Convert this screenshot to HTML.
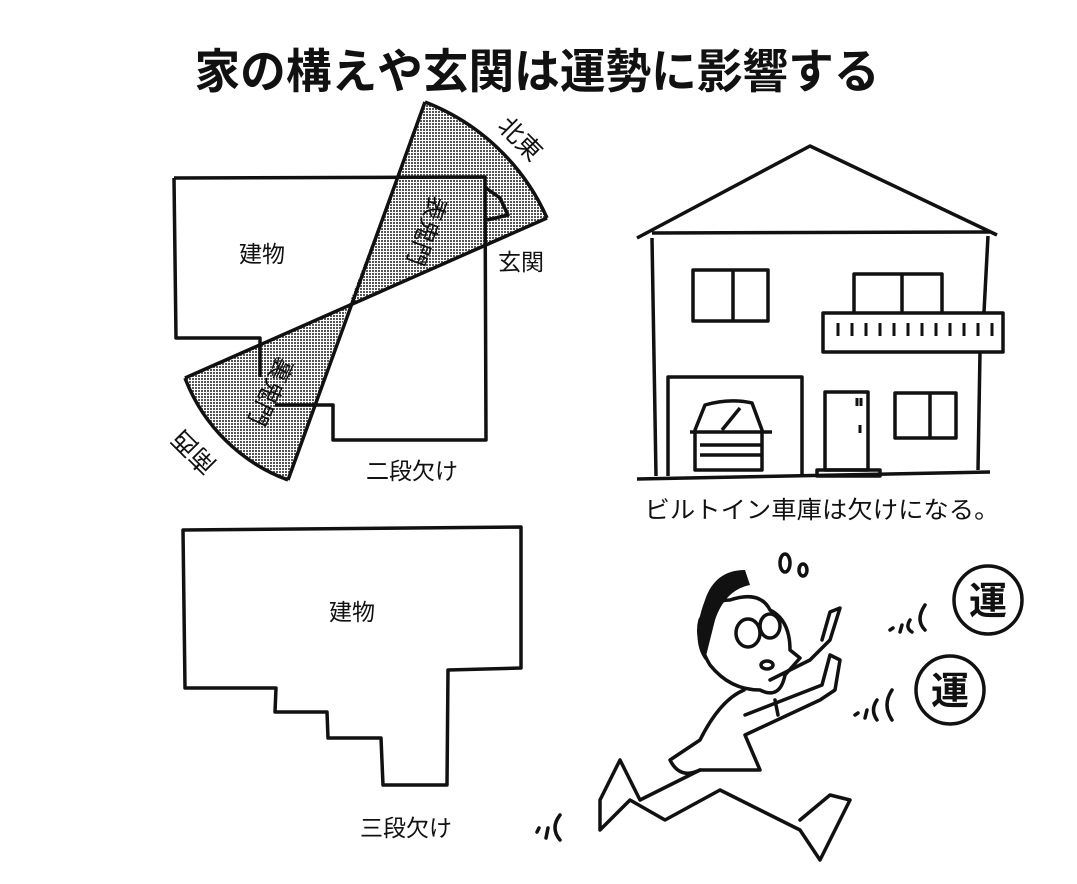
<!DOCTYPE html>
<html><head><meta charset="utf-8"><style>
html,body{margin:0;padding:0;background:#fff;}
svg{display:block;}
text{font-family:"Liberation Sans","Noto Sans CJK JP",sans-serif;fill:#111;}
</style></head><body>
<svg width="1077" height="884" viewBox="0 0 1077 884" xmlns="http://www.w3.org/2000/svg">
<defs>
<pattern id="dots" width="3" height="3" patternUnits="userSpaceOnUse">
<rect width="3" height="3" fill="#fff"/><rect width="2" height="2" fill="#555"/>
</pattern>
</defs>
<text x="537" y="88" font-size="47" font-weight="bold" text-anchor="middle" textLength="685" lengthAdjust="spacingAndGlyphs">家の構えや玄関は運勢に影響する</text>

<!-- wedges -->
<path d="M348,307 L425,102 A220,220 0 0 1 547,218 Z" fill="url(#dots)"/>
<path d="M348,307 L185,378 A175,175 0 0 0 288,480 Z" fill="url(#dots)"/>
<g fill="none" stroke="#111" stroke-width="3.5" stroke-linejoin="round">
<path d="M425,102 L288,480"/>
<path d="M547,218 L185,378"/>
<path d="M425,102 A220,220 0 0 1 547,218"/>
<path d="M185,378 A175,175 0 0 0 288,480"/>
<path d="M174,178 L485,177 L486,440 L333,440 L333,405 L275,405"/>
<path d="M174,178 L176,338 L260,338 L260,377"/>
<path d="M486,188 L500,198 L508,215 L487,220"/>
<path d="M183,530 L521,527 L521,668 L448,670 L447,785 L383,785 L381,738 L328,738 L327,712 L275,712 L276,688 L185,688 Z"/>
</g>
<text x="262" y="262" font-size="23" text-anchor="middle">建物</text>
<text x="521" y="270" font-size="23" text-anchor="middle">玄関</text>
<text x="412" y="479" font-size="23" text-anchor="middle">二段欠け</text>
<text x="0" y="0" font-size="25" text-anchor="middle" transform="translate(514,145) rotate(45)">北東</text>
<text x="0" y="0" font-size="25" text-anchor="middle" transform="translate(200,446) rotate(-135)">南西</text>
<text x="0" y="0" font-size="24" text-anchor="middle" transform="translate(419,228) rotate(110)">表鬼門</text>
<text x="0" y="0" font-size="24" text-anchor="middle" transform="translate(263,388) rotate(115)">裏鬼門</text>
<text x="352" y="620" font-size="23" text-anchor="middle">建物</text>
<text x="406" y="836" font-size="23" text-anchor="middle">三段欠け</text>

<!-- house -->
<g fill="none" stroke="#111" stroke-width="3.5" stroke-linejoin="round">
<path d="M637,238 L810,146 L997,235"/>
<path d="M652,233 L990,232"/>
<path d="M652,238 L656,476"/>
<path d="M988,236 L984,312"/>
<path d="M980,352 L978,470"/>
<path d="M637,479 L990,472"/>
<rect x="693" y="270" width="75" height="51"/>
<path d="M733,270 V321"/>
<path d="M854,312 V274 H942 V312"/>
<path d="M902,274 V312"/>
<rect x="823" y="313" width="180" height="39"/>
<path d="M668,476 V377 H802 V476"/>
<rect x="825" y="392" width="43" height="78"/>
<rect x="817" y="470" width="63" height="6"/>
<rect x="895" y="393" width="61" height="45"/>
<path d="M930,393 V438"/>
<path d="M695,470 V430 L705,405 Q730,398 752,403 L762,430 V470 Z"/>
<path d="M690,432 H772"/>
<path d="M700,445 H762 M700,455 H762"/>
<path d="M740,408 L722,430"/>
</g>
<g stroke="#111" stroke-width="3">
<path d="M838,323v13M852,323v13M866,323v13M880,323v13M894,323v13M908,323v13M922,323v13M936,323v13M950,323v13M964,323v13M978,323v13M992,323v13"/>
<path d="M857,398v8M861,398v8M860,425v8"/>
</g>
<text x="822" y="518" font-size="24" text-anchor="middle" textLength="355" lengthAdjust="spacingAndGlyphs">ビルトイン車庫は欠けになる。</text>

<!-- man -->
<g fill="none" stroke="#111" stroke-width="3.5" stroke-linejoin="round" stroke-linecap="round">
<path d="M730,600 Q760,590 770,610 Q790,620 790,650 L800,658 L785,675 Q780,700 760,690 Q730,690 710,665 Q695,640 700,620 Q710,600 730,600Z"/>
<ellipse cx="748" cy="633" rx="12" ry="14"/>
<ellipse cx="770" cy="626" rx="10" ry="12"/>
<ellipse cx="767" cy="665" rx="6" ry="4"/>
<path d="M744,690 Q720,700 700,740 L670,760 Q680,780 700,770 L760,770 L745,735 L820,700 L835,690 L840,660 L830,655 L822,685 L745,715"/>
<path d="M770,680 L810,660 L830,640 L840,608 L830,612 L822,640"/>
<path d="M700,770 L640,800 L620,760 L600,800 L600,830 L630,800 L665,820 L720,790 L800,830 L820,860 L850,800 L830,795 L800,820"/>
<path d="M775,700 L778,715"/>
<ellipse cx="785" cy="563" rx="5" ry="9"/>
<ellipse cx="803" cy="570" rx="4" ry="6"/>
<path d="M890,630 L893,628 M902,625 L900,632 M910,620 Q905,628 912,632 M925,605 Q915,620 925,630"/>
<path d="M855,715 L858,713 M867,710 L865,718 M877,700 Q870,710 877,720 M892,690 Q882,705 892,720"/>
<path d="M537,832 L539,828 M548,828 L546,838 M560,815 Q550,828 560,840"/>
<circle cx="988" cy="600" r="34"/>
<circle cx="950" cy="690" r="34"/>
</g>
<path d="M705,600 Q715,570 745,570 L750,585 Q725,590 715,620 L705,660 Q690,640 705,600Z" fill="#111"/>
<text x="988" y="614" font-size="38" font-weight="bold" text-anchor="middle">運</text>
<text x="950" y="704" font-size="38" font-weight="bold" text-anchor="middle">運</text>
</svg>
</body></html>
